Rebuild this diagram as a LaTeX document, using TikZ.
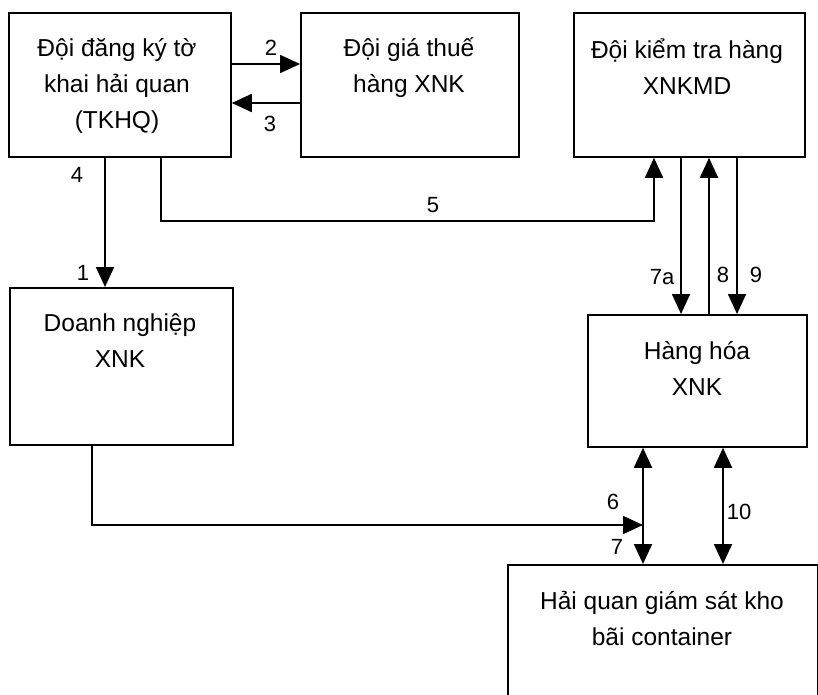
\documentclass[tikz,border=0pt]{standalone}
\usepackage{fontspec}
\setmainfont{Liberation Sans}
\usetikzlibrary{arrows.meta}
\begin{document}
\begin{tikzpicture}[x=1pt,y=-1pt,
 box/.style={draw,line width=1.8pt,inner sep=0pt,anchor=north west},
 txt/.style={align=center,font=\fontsize{24.5}{36}\selectfont,inner sep=0pt},
 lbl/.style={font=\fontsize{22}{24}\selectfont,inner sep=0pt},
 con/.style={line width=1.8pt},
 arr/.style={con,-{Triangle[length=20pt,width=18pt]}},
 darr/.style={con,{Triangle[length=20pt,width=18pt]}-{Triangle[length=20pt,width=18pt]}}]
\useasboundingbox (0,0) rectangle (818,695);
\clip (0,0) rectangle (818,695);
% boxes
\node[box,minimum width=222pt,minimum height=144pt] (b1) at (8,12) {};
\node[box,minimum width=218pt,minimum height=144pt] (b2) at (300,12) {};
\node[box,minimum width=231pt,minimum height=144pt] (b3) at (573,12) {};
\node[box,minimum width=223pt,minimum height=157pt] (b4) at (9,287) {};
\node[box,minimum width=219pt,minimum height=132pt] (b5) at (587,314) {};
\node[box,minimum width=310pt,minimum height=200pt] (b6) at (507,564) {};
% texts
\node[txt] (t1) at (117,86) {Đội đăng ký tờ\\khai hải quan\\(TKHQ)};
\node[txt] (t2) at (409,68) {Đội giá thuế\\hàng XNK};
\node[txt] (t3) at (687,67) {Đội kiểm tra hàng\\XNKMD};
\node[txt] (t4) at (120,341) {Doanh nghiệp\\XNK};
\node[txt] (t5) at (697,368) {Hàng hóa\\XNK};
\node[txt] (t6) at (662,618) {Hải quan giám sát kho\\bãi container};
% helper coordinates
\coordinate (c2) at (0,64);
\coordinate (c3) at (0,103);
\coordinate (c4) at (105,0);
\coordinate (x5) at (161,221);
\coordinate (k5) at (654,221);
\coordinate (x7a) at (681,0);
\coordinate (x8) at (709,0);
\coordinate (x9) at (737,0);
\coordinate (x6) at (643,0);
\coordinate (x10) at (723,0);
\coordinate (k6) at (92,525);
% connectors
\draw[arr] (b1.east |- c2) -- (b2.west |- c2);
\draw[arr] (b2.west |- c3) -- (b1.east |- c3);
\draw[arr] (b1.south -| c4) -- (b4.north -| c4);
\draw[arr] (b1.south -| x5) -- (x5) -- (k5) -- (b3.south -| k5);
\draw[arr] (b3.south -| x7a) -- (b5.north -| x7a);
\draw[arr] (b5.north -| x8) -- (b3.south -| x8);
\draw[arr] (b3.south -| x9) -- (b5.north -| x9);
\draw[darr] (b5.south -| x6) -- (b6.north -| x6);
\draw[darr] (b5.south -| x10) -- (b6.north -| x10);
\draw[arr] (b4.south -| k6) -- (k6) -- (k6 -| x6);
% labels
\node[lbl] (l2) at (271,48) {2};
\node[lbl] (l3) at (270,124) {3};
\node[lbl] (l4) at (77,175) {4};
\node[lbl] (l1) at (83,273) {1};
\node[lbl] (l5) at (433,205) {5};
\node[lbl] (l7a) at (662,277) {7a};
\node[lbl] (l8) at (723,275) {8};
\node[lbl] (l9) at (756,275) {9};
\node[lbl] (l6) at (613,502) {6};
\node[lbl] (l7) at (617,547) {7};
\node[lbl] (l10) at (739,512) {10};
\end{tikzpicture}
\end{document}
